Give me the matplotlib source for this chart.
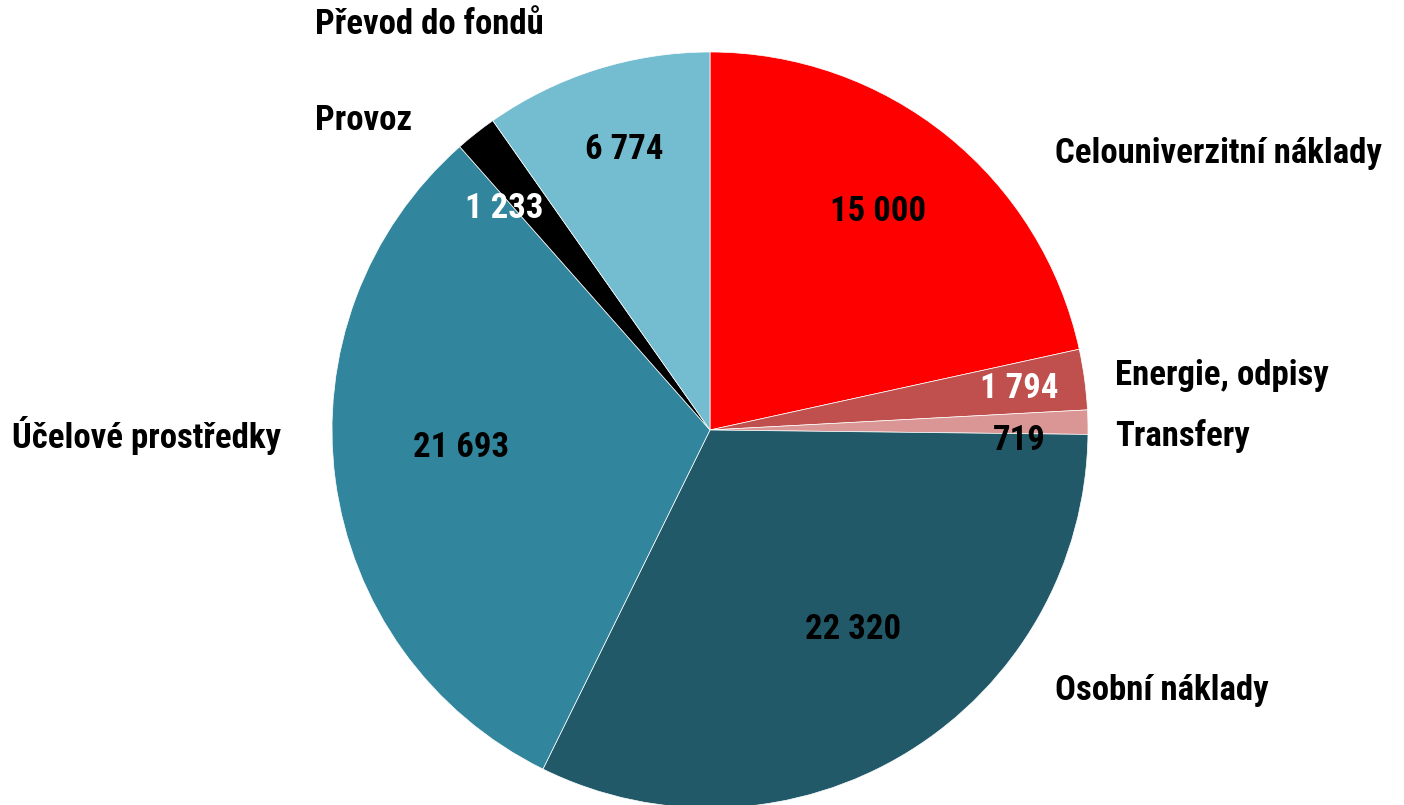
import numpy as np
import matplotlib

matplotlib.use("Agg")
import matplotlib.pyplot as plt  # noqa: E402

plt.rcParams["font.family"] = ["Roboto Condensed", "DejaVu Sans"]

categories = ["Celouniverzitní náklady", "Energie, odpisy", "Transfery",
              "Osobní náklady", "Účelové prostředky", "Provoz", "Převod do fondů"]
values = [15000, 1794, 719, 22320, 21693, 1233, 6774]
value_labels = ["15 000", "1 794", "719", "22 320", "21 693", "1 233", "6 774"]

COLORS = ["#FF0000", "#C0504D", "#D99694", "#215968", "#31859C", "#000000", "#74BDD1"]
VALUE_COLORS = ["black", "white", "black", "black", "black", "white", "black"]
# radial distance (fraction of radius) and angular nudge (deg) per value label
VAL_DIST = [0.73, 0.825, 0.82, 0.65, 0.66, 0.80, 0.775]
VAL_NUDGE = [1.3, 0.0, -3.2, 4.2, -3.6, 4.7, -0.6]
# category label anchors (left x, centre y) in pixel space, y downward
CAT_POS = [(1055, 153), (1115, 375), (1115, 436), (1055, 690),
           (12, 435), (315, 120), (315, 25)]

W, H = 1404, 805
CX, CY, R = 710, 430, 378
FS = 25

fig = plt.figure(figsize=(W / 100, H / 100), dpi=100)
ax = fig.add_axes([0, 0, 1, 1])

wedges, _ = ax.pie(values, colors=COLORS, startangle=90, counterclock=False,
                   center=(CX, H - CY), radius=R, frame=True,
                   wedgeprops=dict(edgecolor="white", linewidth=0.5))
ax.set_xlim(0, W)
ax.set_ylim(0, H)
ax.axis("off")

for w, lab, col, d, nudge in zip(wedges, value_labels, VALUE_COLORS, VAL_DIST, VAL_NUDGE):
    ang = np.deg2rad((w.theta1 + w.theta2) / 2 + nudge)
    x = CX + d * R * np.cos(ang)
    y = (H - CY) + d * R * np.sin(ang)
    ax.text(x, y, lab, color=col, fontsize=FS, fontweight="bold",
            ha="center", va="center")

for name, (x, y) in zip(categories, CAT_POS):
    ax.text(x, H - y, name, color="black", fontsize=FS, fontweight="bold",
            ha="left", va="center")

fig.savefig("out.png", dpi=100)
